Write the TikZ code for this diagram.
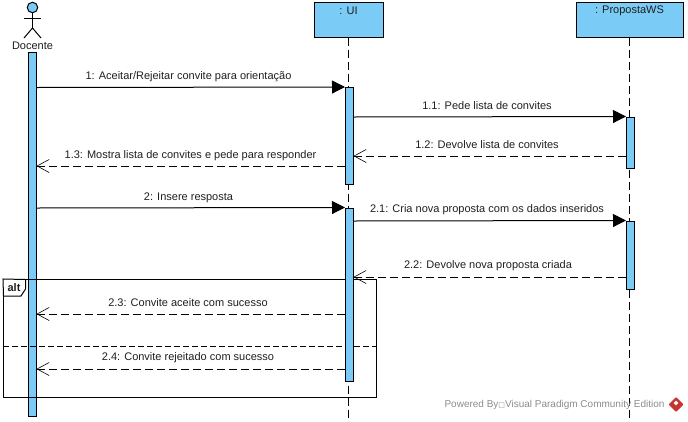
\documentclass[tikz,border=0pt]{standalone}
\usepackage{fontspec}
\setmainfont{Liberation Sans}
\newfontfamily\symfont{DejaVu Sans}
\usepackage{xcolor}
\usetikzlibrary{arrows.meta,shapes.geometric}
\definecolor{vpblue}{HTML}{7ACBF5}
\definecolor{vpred}{HTML}{C8352E}
\begin{document}
\begin{tikzpicture}[
    x=1pt, y=-1pt,
    font=\fontsize{11}{13}\selectfont,
    line width=1pt,
    lbl/.style={inner sep=0pt, text=black!88},
    obj/.style={draw=black, fill=vpblue, minimum height=35pt, inner sep=0pt},
    bar/.style={draw=black, fill=vpblue, minimum width=7.5pt, inner sep=0pt},
    life/.style={dash pattern=on 8pt off 4pt},
    call/.style={-{Triangle[length=13pt,width=13pt]}},
    back/.style={dash pattern=on 8pt off 4pt, -{Straight Barb[length=12pt,width=13pt,line width=0.6pt]}},
  ]
    \useasboundingbox (0,0) rectangle (688,421);

    % objects
    \node[obj, minimum width=68.5pt] (ui) at (348.75,19.5) {};
    \node[obj, minimum width=107pt] (ws) at (629.5,19.5) {};
    \node[lbl] (uilbl) at (348.5,11) {: UI};
    \node[lbl] (wslbl) at (629.5,11) {: PropostaWS};
    \coordinate (uiend) at (348.75,421);
    \coordinate (wsend) at (629.5,421);
    \draw[life] (ui) -- (uiend);
    \draw[life] (ws) -- (wsend);

    % actor
    \node[circle, draw=black, fill=vpblue, minimum size=10.5pt, inner sep=0pt] (head) at (32.5,7.5) {};
    \coordinate (hip) at (32.5,28);
    \coordinate (armL) at (24,18);
    \coordinate (armR) at (41,18);
    \coordinate (footL) at (24,38);
    \coordinate (footR) at (41,38);
    \draw (head) -- (hip);
    \draw (armL) -- (armR);
    \draw (footL) -- (hip) -- (footR);
    \node[lbl] (doclbl) at (32.5,45.5) {Docente};

    % activations
    \node[bar, minimum height=364pt] (docbar) at (32.25,234.25) {};

    % alt frame
    \node[draw=black, minimum width=373pt, minimum height=117.5pt, inner sep=0pt] (frame) at (190,338.25) {};
    \coordinate (tabA) at (3.5,296);
    \coordinate (tabB) at (21,296);
    \coordinate (tabC) at (25.5,289);
    \coordinate (tabD) at (25.5,279.5);
    \draw[fill=white] (tabD) -- (tabC) -- (tabB) -- (tabA) -- (frame.north west) -- cycle;
    \node[lbl, font=\fontsize{11}{13}\selectfont\bfseries] (altlbl) at (14,288) {alt};
    \draw[dash pattern=on 6pt off 3pt] (frame.west |- 0,346.5) -- (frame.east |- 0,346.5);

    \node[bar, minimum height=97pt] (uibarA) at (349.25,136) {};
    \node[bar, minimum height=173pt] (uibarB) at (349.25,294.5) {};
    \node[bar, minimum height=51pt] (wsbarA) at (630.25,142.5) {};
    \node[bar, minimum height=68.5pt] (wsbarB) at (630.25,255.25) {};

    % messages
    \draw[call] (docbar.east |- 0,87.5) -- (uibarA.north west);
    \draw[call] (uibarA.east |- 0,117) -- (wsbarA.north west);
    \draw[back] (wsbarA.west |- 0,156) -- (uibarA.east |- 0,156);
    \draw[back] (uibarA.west |- 0,166) -- (docbar.east |- 0,166);
    \draw[call] (docbar.east |- 0,208) -- (uibarB.north west);
    \draw[call] (uibarB.east |- 0,221) -- (wsbarB.north west);
    \draw[back] (wsbarB.west |- 0,277) -- (uibarB.east |- 0,277);
    \draw[back] (uibarB.west |- 0,314) -- (docbar.east |- 0,314);
    \draw[back] (uibarB.west |- 0,369) -- (docbar.east |- 0,369);

    \node[lbl] (msgA) at (188.5,76.5) {1: Aceitar/Rejeitar convite para orientação};
    \node[lbl] (msgB) at (487,105.5) {1.1: Pede lista de convites};
    \node[lbl] (msgC) at (487,144.5) {1.2: Devolve lista de convites};
    \node[lbl] (msgD) at (190.5,155.5) {1.3: Mostra lista de convites e pede para responder};
    \node[lbl] (msgE) at (188.5,197.5) {2: Insere resposta};
    \node[lbl] (msgF) at (487,209.5) {2.1: Cria nova proposta com os dados inseridos};
    \node[lbl] (msgG) at (488,265.5) {2.2: Devolve nova proposta criada};
    \node[lbl] (msgH) at (188,302.5) {2.3: Convite aceite com sucesso};
    \node[lbl] (msgI) at (188,357.5) {2.4: Convite rejeitado com sucesso};

    % watermark
    \node[lbl, text=black!45, font=\fontsize{10}{12}\selectfont] (mark) at (554.5,404.5) {Powered By{\symfont\fontsize{7}{8}\selectfont □}Visual Paradigm Community Edition};
    \node[diamond, draw=vpred, line join=round, line width=2pt, fill=vpred, minimum size=13pt, inner sep=0pt] (logo) at (676,404.5) {};
    \node[diamond, fill=white, minimum size=5pt, inner sep=0pt] (logoin) at (676,403) {};
\end{tikzpicture}
\end{document}
